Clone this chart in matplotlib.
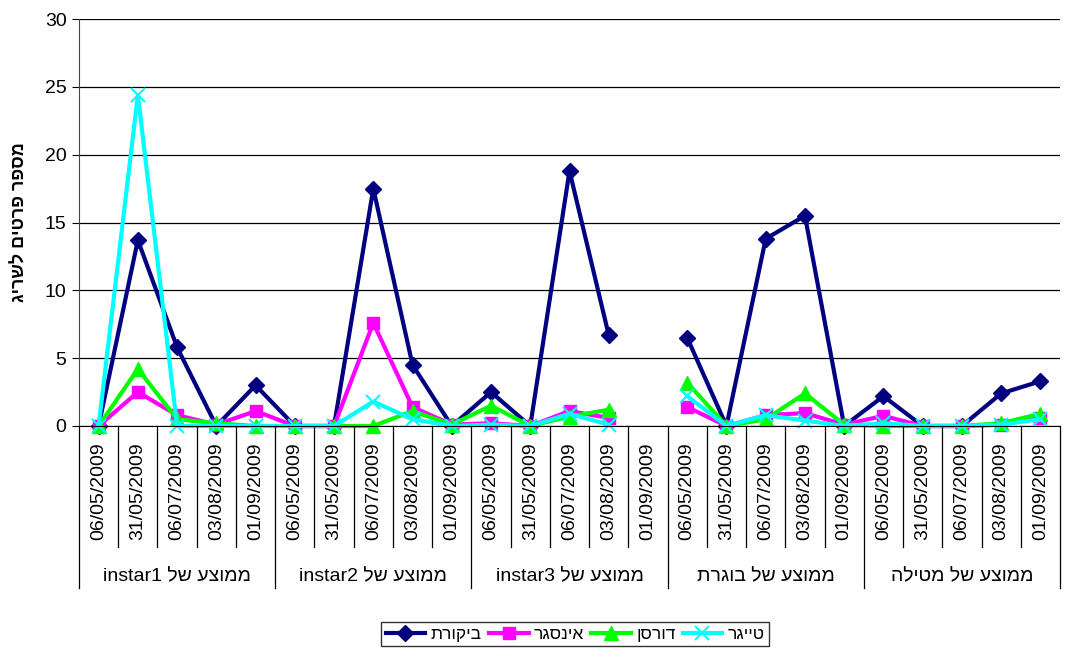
import numpy as np
import matplotlib
matplotlib.use("Agg")
import matplotlib.pyplot as plt

plt.rcParams['font.family'] = ['Liberation Sans', 'DejaVu Sans']

# categories: five sampling dates inside each of five life stages
dates = ['06/05/2009', '31/05/2009', '06/07/2009', '03/08/2009', '01/09/2009']
groups = ['ממוצע של instar1', 'ממוצע של instar2', 'ממוצע של instar3',
          'ממוצע של בוגרת', 'ממוצע של מטילה']

nan = np.nan
bikoret = [0, 13.7, 5.8, 0, 3.0,
           0, 0, 17.5, 4.5, 0,
           2.5, 0, 18.8, 6.7, nan,
           6.5, 0, 13.8, 15.5, 0,
           2.2, 0, 0, 2.4, 3.3]
insagar = [0, 2.5, 0.8, 0.1, 1.1,
           0, 0, 7.6, 1.4, 0.1,
           0.2, 0, 1.1, 0.6, nan,
           1.4, 0, 0.8, 0.95, 0.1,
           0.75, 0, 0, 0.1, 0.6]
doresen = [0, 4.2, 0.5, 0.2, 0,
           0, 0, 0, 1.1, 0.1,
           1.5, 0, 0.7, 1.2, nan,
           3.2, 0, 0.5, 2.4, 0.1,
           0, 0, 0, 0.2, 0.9]
tiger = [0, 24.4, 0, 0, 0,
         0, 0, 1.8, 0.5, 0,
         0.1, 0, 0.9, 0.1, nan,
         2.2, 0, 0.8, 0.4, 0,
         0.2, 0, 0, 0.1, 0.5]

series = [
    ('ביקורת', bikoret, '#000080', 'D', 8),
    ('אינסגר', insagar, '#FF00FF', 's', 9),
    ('דורסן', doresen, '#00FF00', '^', 10),
    ('טייגר', tiger, '#00FFFF', 'x', 10),
]


def visual(s):
    # matplotlib has no bidi support, so put Hebrew words in display order
    words = s.split(' ')
    out = []
    for w in reversed(words):
        if any('\u0590' <= c <= '\u05ff' for c in w):
            out.append(w[::-1])
        else:
            out.append(w)
    return ' '.join(out)


fig = plt.figure(figsize=(10.65, 6.55), dpi=100)
ax = fig.add_axes([79 / 1065, 229 / 655, 981 / 1065, 407 / 655])

x = np.arange(len(groups) * len(dates))
for name, vals, color, marker, ms in series:
    ax.plot(x, vals, color=color, lw=3, marker=marker, ms=ms,
            markeredgewidth=1.5 if marker == 'x' else 1,
            label=visual(name), clip_on=False)

ax.set_xlim(-0.5, len(x) - 0.5)
ax.set_ylim(0, 30)
ax.set_yticks(range(0, 31, 5))
ax.yaxis.grid(True, color='black', lw=0.9)
ax.set_axisbelow(True)
for side in ['top', 'right']:
    ax.spines[side].set_visible(False)
ax.spines['left'].set_color('#444444')
ax.spines['bottom'].set_color('black')
ax.tick_params(axis='y', labelsize=14, length=5, direction='out', pad=4)

ax.set_xticks(x)
ax.set_xticklabels(dates * len(groups), rotation=90, fontsize=14)
ax.tick_params(axis='x', length=0, pad=12)

# category dividers below the axis, longer ones between the stage groups
trans = ax.get_xaxis_transform()
for i in range(len(x) + 1):
    pos = i - 0.5
    low = -0.398 if i % len(dates) == 0 else -0.297
    ax.plot([pos, pos], [0, low], color='black', lw=0.9,
            transform=trans, clip_on=False)

for g, name in enumerate(groups):
    center = g * len(dates) + (len(dates) - 1) / 2
    ax.text(center, -0.37, visual(name), transform=trans,
            ha='center', va='center', fontsize=14)

ax.set_ylabel(visual('מספר פרטים לשריג'), fontsize=13, fontweight='bold',
              labelpad=12)

leg = fig.legend(loc='upper center', bbox_to_anchor=(0.54, 0.05), ncol=4,
                 fontsize=12.5, frameon=True, fancybox=False, edgecolor='black',
                 handlelength=2.3, columnspacing=0.4, handletextpad=0.3,
                 borderpad=0.25, borderaxespad=0)
leg.get_frame().set_linewidth(1.0)

fig.savefig('out.png', dpi=100)
